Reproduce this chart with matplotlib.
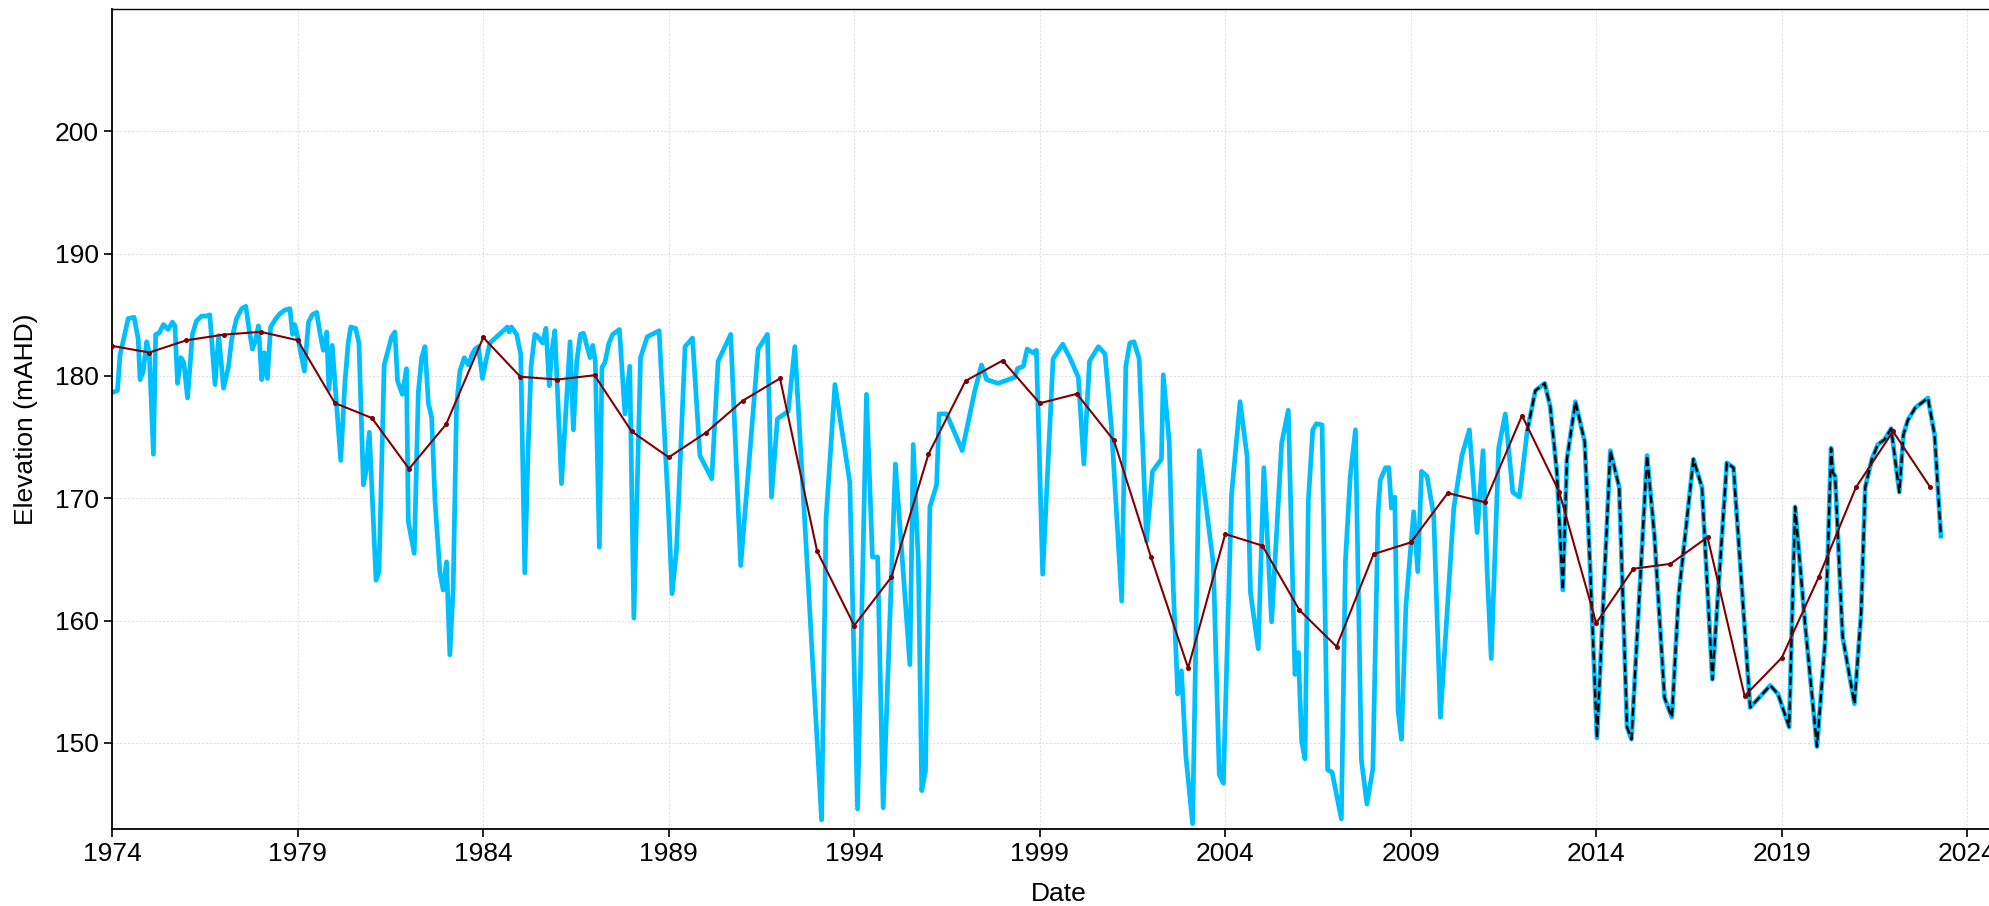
import matplotlib
matplotlib.use('Agg')
import matplotlib.pyplot as plt
import numpy as np

plt.rcParams['font.family'] = ['Liberation Sans', 'DejaVu Sans']

# ---- observed water level (decimal year, elevation mAHD) ----
obs_years = [
    1974.05, 1974.14, 1974.21, 1974.32, 1974.43, 1974.59, 1974.70, 1974.75, 1974.83, 1974.93,
    1975.00, 1975.11, 1975.17, 1975.26, 1975.38, 1975.51, 1975.62, 1975.69, 1975.76, 1975.85,
    1975.93, 1976.03, 1976.16, 1976.27, 1976.41, 1976.54, 1976.63, 1976.77, 1976.87, 1977.00,
    1977.13, 1977.22, 1977.35, 1977.49, 1977.60, 1977.69, 1977.78, 1977.87, 1977.94, 1978.03,
    1978.10, 1978.18, 1978.27, 1978.39, 1978.52, 1978.66, 1978.79, 1978.86, 1978.92, 1978.99,
    1979.18, 1979.29, 1979.39, 1979.51, 1979.60, 1979.69, 1979.78, 1979.84, 1979.93, 1980.05,
    1980.16, 1980.27, 1980.36, 1980.43, 1980.56, 1980.65, 1980.77, 1980.84, 1980.93, 1981.11,
    1981.19, 1981.33, 1981.46, 1981.53, 1981.62, 1981.69, 1981.82, 1981.93, 1981.98, 1982.14,
    1982.25, 1982.34, 1982.43, 1982.52, 1982.61, 1982.70, 1982.83, 1982.92, 1983.01, 1983.10,
    1983.19, 1983.28, 1983.37, 1983.49, 1983.60, 1983.69, 1983.78, 1983.87, 1983.98, 1984.07,
    1984.18, 1984.36, 1984.54, 1984.65, 1984.70, 1984.76, 1984.90, 1985.01, 1985.12, 1985.21,
    1985.29, 1985.39, 1985.48, 1985.60, 1985.69, 1985.78, 1985.84, 1985.93, 1986.11, 1986.34,
    1986.43, 1986.52, 1986.62, 1986.70, 1986.79, 1986.88, 1986.95, 1987.02, 1987.13, 1987.20,
    1987.28, 1987.39, 1987.49, 1987.67, 1987.82, 1987.95, 1988.06, 1988.24, 1988.42, 1988.74,
    1988.99, 1989.09, 1989.21, 1989.44, 1989.64, 1989.84, 1990.16, 1990.33, 1990.67, 1990.94,
    1991.41, 1991.66, 1991.77, 1991.93, 1992.22, 1992.40, 1993.12, 1993.24, 1993.48, 1993.88,
    1994.09, 1994.33, 1994.49, 1994.63, 1994.78, 1995.11, 1995.50, 1995.59, 1995.73, 1995.82,
    1995.92, 1996.04, 1996.22, 1996.29, 1996.49, 1996.91, 1997.25, 1997.43, 1997.57, 1997.88,
    1998.33, 1998.40, 1998.56, 1998.66, 1998.81, 1998.91, 1999.08, 1999.36, 1999.62, 1999.81,
    2000.04, 2000.19, 2000.34, 2000.58, 2000.76, 2000.94, 2001.21, 2001.32, 2001.43, 2001.54,
    2001.68, 2001.88, 2002.04, 2002.28, 2002.33, 2002.49, 2002.60, 2002.72, 2002.82, 2002.94,
    2003.12, 2003.30, 2003.68, 2003.84, 2003.95, 2004.17, 2004.40, 2004.59, 2004.68, 2004.89,
    2005.04, 2005.25, 2005.52, 2005.70, 2005.88, 2005.97, 2006.06, 2006.15, 2006.24, 2006.36,
    2006.46, 2006.61, 2006.76, 2006.88, 2007.13, 2007.24, 2007.37, 2007.51, 2007.67, 2007.82,
    2007.98, 2008.12, 2008.18, 2008.32, 2008.41, 2008.48, 2008.57, 2008.66, 2008.75, 2008.87,
    2009.08, 2009.19, 2009.29, 2009.44, 2009.62, 2009.80, 2010.16, 2010.38, 2010.58, 2010.79,
    2010.95, 2011.06, 2011.17, 2011.37, 2011.55, 2011.75, 2011.93, 2012.14, 2012.36, 2012.61,
    2012.76, 2012.94, 2013.10, 2013.21, 2013.44, 2013.69, 2013.84, 2014.02, 2014.38, 2014.62,
    2014.83, 2014.95, 2015.37, 2015.57, 2015.84, 2016.04, 2016.22, 2016.62, 2016.85, 2017.13,
    2017.52, 2017.70, 2018.15, 2018.69, 2018.90, 2019.20, 2019.36, 2019.63, 2019.95, 2020.17,
    2020.33, 2020.38, 2020.44, 2020.64, 2020.96, 2021.14, 2021.25, 2021.43, 2021.59, 2021.77,
    2021.95, 2022.17, 2022.28, 2022.40, 2022.60, 2022.94, 2023.12, 2023.29,
]
obs_values = [
    178.7, 178.8, 181.7, 183.2, 184.7, 184.8, 183.0, 179.7, 180.3, 182.8,
    181.8, 173.6, 183.4, 183.5, 184.2, 183.8, 184.4, 184.1, 179.4, 181.5,
    181.1, 178.2, 183.4, 184.5, 184.9, 184.9, 185.0, 179.3, 183.3, 179.0,
    180.7, 183.0, 184.7, 185.5, 185.7, 183.8, 182.2, 183.0, 184.1, 179.7,
    181.9, 179.8, 184.0, 184.6, 185.1, 185.4, 185.5, 183.4, 184.2, 183.3,
    180.4, 184.4, 185.0, 185.2, 183.5, 182.1, 183.6, 178.9, 182.5, 177.5,
    173.1, 179.4, 182.7, 184.0, 183.9, 182.7, 171.1, 172.2, 175.4, 163.3,
    164.0, 180.9, 182.4, 183.2, 183.6, 179.6, 178.5, 180.6, 168.1, 165.5,
    178.65, 181.5, 182.4, 177.8, 176.6, 169.8, 164.0, 162.5, 164.8, 157.2,
    162.6, 177.5, 180.4, 181.5, 180.9, 181.7, 182.2, 182.4, 179.8, 181.2,
    182.7, 183.2, 183.7, 184.0, 183.6, 184.0, 183.4, 181.8, 163.9, 174.1,
    180.8, 183.4, 183.2, 182.7, 183.9, 179.2, 181.8, 183.7, 171.2, 182.8,
    175.6, 181.2, 183.4, 183.5, 182.5, 181.5, 182.5, 181.2, 166.0, 180.7,
    181.1, 182.7, 183.4, 183.8, 176.9, 180.8, 160.2, 181.5, 183.2, 183.7,
    169.2, 162.2, 165.8, 182.4, 183.1, 173.5, 171.6, 181.2, 183.4, 164.5,
    182.2, 183.4, 170.1, 176.5, 177.1, 182.4, 143.7, 168.3, 179.3, 171.3,
    144.6, 178.5, 165.2, 165.2, 144.7, 172.8, 156.4, 174.4, 164.6, 146.1,
    147.7, 169.3, 171.1, 176.9, 176.9, 173.9, 178.8, 180.9, 179.7, 179.4,
    179.9, 180.6, 180.8, 182.2, 181.9, 182.1, 163.8, 181.4, 182.6, 181.5,
    179.9, 172.8, 181.2, 182.4, 181.8, 175.5, 161.6, 180.8, 182.7, 182.8,
    181.4, 166.5, 172.2, 173.2, 180.1, 174.6, 162.6, 154.0, 155.9, 148.9,
    143.4, 173.9, 164.6, 147.4, 146.7, 170.3, 177.9, 173.4, 162.3, 157.7,
    172.5, 159.9, 174.5, 177.2, 155.6, 157.4, 150.1, 148.7, 169.8, 175.6,
    176.1, 176.0, 147.8, 147.6, 143.8, 164.9, 171.8, 175.6, 148.6, 145.0,
    147.9, 168.9, 171.5, 172.5, 172.5, 169.2, 170.1, 152.6, 150.3, 161.2,
    168.9, 164.0, 172.2, 171.8, 168.6, 152.1, 169.2, 173.5, 175.6, 167.2,
    173.9, 164.0, 156.9, 174.1, 176.9, 170.5, 170.1, 175.5, 178.8, 179.4,
    177.5, 172.1, 162.5, 173.2, 177.9, 174.6, 164.0, 150.4, 173.9, 170.9,
    151.3, 150.3, 173.5, 166.9, 153.7, 152.1, 162.0, 173.2, 170.9, 155.2,
    172.9, 172.5, 152.9, 154.7, 154.0, 151.3, 169.3, 159.7, 149.7, 158.3,
    174.1, 172.1, 171.8, 158.7, 153.2, 160.6, 170.9, 173.2, 174.4, 174.8,
    175.7, 170.5, 175.2, 176.4, 177.4, 178.2, 175.2, 166.9,
]

# ---- annual series ----
annual_years = list(range(1974, 2024))
annual_values = [
    182.46, 181.92, 182.92, 183.38, 183.61, 182.92, 177.79, 176.56, 172.41, 176.05,
    183.15, 179.94, 179.71, 180.06, 175.47, 173.35, 175.36, 177.99, 179.80, 165.67,
    159.60, 163.55, 173.60, 179.60, 181.26, 177.77, 178.54, 174.73, 165.19, 156.13,
    167.08, 166.13, 160.86, 157.88, 165.44, 166.39, 170.43, 169.68, 176.76, 170.54,
    159.80, 164.24, 164.64, 166.82, 153.84, 156.96, 163.58, 170.89, 175.47, 170.92,
]

recent_start = 2012.0
x_ticks = list(range(1974, 2025, 5))
y_ticks = list(range(150, 201, 10))

fig = plt.figure(figsize=(19.9, 9.06), dpi=100)
ax = fig.add_axes([0.0564, 0.0855, 0.9508, 0.9045])

oy = np.array(obs_years)
ov = np.array(obs_values)
ax.plot(oy, ov, color='#00BFFF', lw=3.4, zorder=2, solid_joinstyle='round')
m = oy >= recent_start
ax.plot(oy[m], ov[m], color='black', lw=1.7, ls='--', zorder=3)
ax.plot(annual_years, annual_values, color='#800000', lw=1.5, marker='o', ms=2.6, zorder=4)

ax.set_xlim(1974, 2025)
ax.set_ylim(143.0, 210.0)
ax.set_xticks(x_ticks)
ax.set_xticklabels([str(t) for t in x_ticks])
ax.set_yticks(y_ticks)
ax.grid(True, color='#dcdcdc', ls=(0, (2, 2)), lw=0.7, zorder=0)
ax.set_axisbelow(True)

for s in ['left', 'bottom']:
    ax.spines[s].set_linewidth(1.3)
ax.spines['top'].set_linewidth(1.0)
ax.spines['right'].set_visible(False)
ax.tick_params(direction='out', length=6, width=1.2, labelsize=19, colors='black')

ax.set_xlabel('Date', fontsize=19, labelpad=12)
ax.set_ylabel('Elevation (mAHD)', fontsize=19, labelpad=12)

fig.savefig('out.png', dpi=100)
